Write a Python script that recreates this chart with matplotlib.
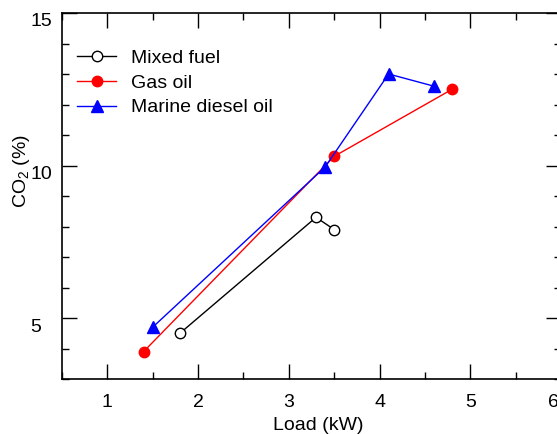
import matplotlib
matplotlib.use('Agg')
import matplotlib.pyplot as plt
import matplotlib.transforms as mtransforms
from matplotlib.ticker import MultipleLocator

plt.rcParams['font.family'] = ['Liberation Sans', 'DejaVu Sans']
plt.rcParams['mathtext.fontset'] = 'custom'
plt.rcParams['mathtext.rm'] = 'Liberation Sans'
plt.rcParams['mathtext.default'] = 'regular'

# data
mixed_x = [1.8, 3.3, 3.5]
mixed_y = [4.5, 8.3, 7.9]
gas_x = [1.4, 3.5, 4.8]
gas_y = [3.9, 10.3, 12.5]
mdo_x = [1.5, 3.4, 4.1, 4.6]
mdo_y = [4.7, 9.95, 13.0, 12.6]

fig = plt.figure(figsize=(5.57, 4.34), dpi=100)
ax = fig.add_axes([62/557, 1 - 379/434, 499/557, 366/434])

ax.plot(mixed_x, mixed_y, color='black', lw=1, marker='o', ms=7.5,
        mfc='white', mec='black', mew=1, label='Mixed fuel')
ax.plot(gas_x, gas_y, color='red', lw=1, marker='o', ms=7.5,
        mfc='red', mec='red', label='Gas oil')
ax.plot(mdo_x, mdo_y, color='blue', lw=1, marker='^', ms=8,
        mfc='blue', mec='blue', label='Marine diesel oil')

ax.set_xlim(0.5, 6.0)
ax.set_ylim(3, 15)
ax.xaxis.set_major_locator(MultipleLocator(1))
ax.xaxis.set_minor_locator(MultipleLocator(0.5))
ax.yaxis.set_major_locator(MultipleLocator(5))
ax.yaxis.set_minor_locator(MultipleLocator(1))
ax.tick_params(which='both', direction='in', top=True, right=True,
               labelsize=14, width=1)
ax.tick_params(which='major', length=11)
ax.tick_params(which='minor', length=5)
ax.tick_params(axis='x', pad=11)
ax.tick_params(axis='y', pad=23)
for s in ax.spines.values():
    s.set_linewidth(1.2)

fig.canvas.draw()
down = mtransforms.ScaledTranslation(0, -7/100, fig.dpi_scale_trans)
for lab in ax.get_yticklabels():
    lab.set_horizontalalignment('left')
    lab.set_transform(lab.get_transform() + down)
left = mtransforms.ScaledTranslation(-8/100, 0, fig.dpi_scale_trans)
for tk in ax.xaxis.get_major_ticks():
    if abs(tk.get_loc() - 6) < 1e-6:
        tk.label1.set_transform(tk.label1.get_transform() + left)

ax.set_xlabel('Load (kW)', fontsize=14)
ax.xaxis.set_label_coords((318 - 62) / 499, -0.103)
ax.set_ylabel('CO$_2$ (%)', fontsize=14)
ax.yaxis.set_label_coords(-(62 - 32) / 499, (379 - 171) / 366)

ax.legend(loc='upper left', bbox_to_anchor=(0.0, 0.94), frameon=False,
          fontsize=14, handlelength=2.05, handletextpad=0.75,
          labelspacing=0.36, borderaxespad=0.35)

fig.savefig('out.png', dpi=100)
